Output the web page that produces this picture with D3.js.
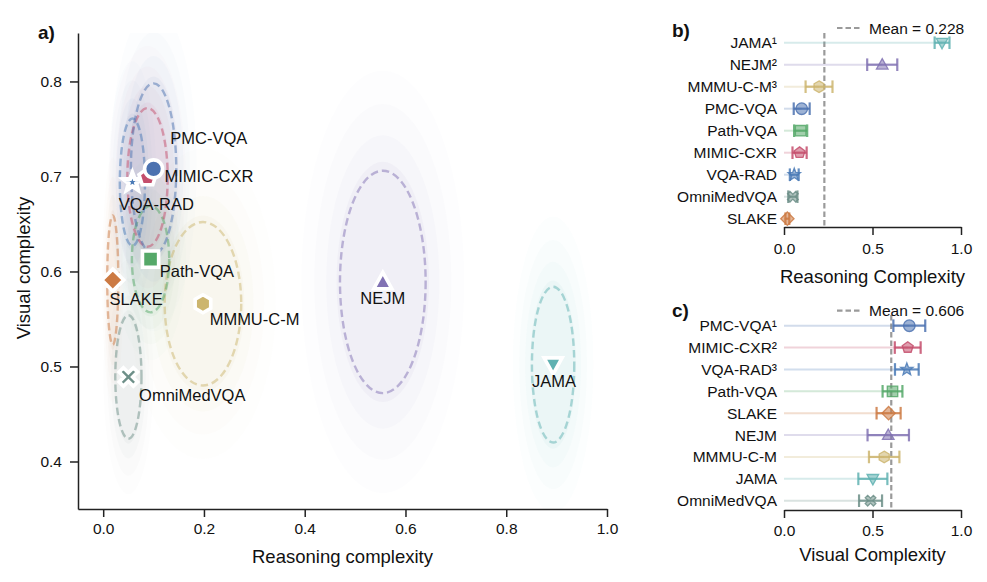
<!DOCTYPE html>
<html><head><meta charset="utf-8">
<script src="https://cdn.jsdelivr.net/npm/d3@7"></script>
<style>
body{margin:0;background:#fff}
text{font-family:"Liberation Sans",Arial,Helvetica,sans-serif}
</style>
</head><body>
<svg id="chart" width="987" height="582"></svg>
<script>
// ---------------- DATA ----------------
const datasets   = ["PMC-VQA","MIMIC-CXR","VQA-RAD","Path-VQA","SLAKE","NEJM","MMMU-C-M","JAMA","OmniMedVQA"];
const colors     = ["#4c72b0","#c44e6c","#4a7ab6","#55a868","#cc7a43","#8172b3","#ccb56e","#5fb1b1","#6d8f88"];
const markers    = ["o","p","*","s","D","^","h","v","X"];
const reasonMean = [0.100,0.088,0.058,0.094,0.019,0.555,0.198,0.893,0.050];
const reasonSd   = [0.045,0.040,0.025,0.037,0.011,0.085,0.076,0.042,0.026];
const visualMean = [0.708,0.699,0.694,0.613,0.591,0.589,0.566,0.502,0.489];
const visualSd   = [0.090,0.073,0.067,0.056,0.068,0.117,0.086,0.082,0.065];
const meanReason = 0.228;
const meanVisual = 0.606;
const xTicksA = [0.0,0.2,0.4,0.6,0.8,1.0];
const yTicksA = [0.4,0.5,0.6,0.7,0.8];
const xTicksBC = [0.0,0.5,1.0];
const orderB  = ["JAMA","NEJM","MMMU-C-M","PMC-VQA","Path-VQA","MIMIC-CXR","VQA-RAD","OmniMedVQA","SLAKE"];
const labelsB = ["JAMA¹","NEJM²","MMMU-C-M³","PMC-VQA","Path-VQA","MIMIC-CXR","VQA-RAD","OmniMedVQA","SLAKE"];
const orderC  = ["PMC-VQA","MIMIC-CXR","VQA-RAD","Path-VQA","SLAKE","NEJM","MMMU-C-M","JAMA","OmniMedVQA"];
const labelsC = ["PMC-VQA¹","MIMIC-CXR²","VQA-RAD³","Path-VQA","SLAKE","NEJM","MMMU-C-M","JAMA","OmniMedVQA"];

// ---------------- LAYOUT CONFIG ----------------
const labelOffset = {
  "PMC-VQA":[16.7,-31,"start"], "MIMIC-CXR":[17,-1.5,"start"], "VQA-RAD":[-13.7,21.6,"start"],
  "Path-VQA":[9.3,11.7,"start"], "SLAKE":[-3.3,19.3,"start"], "MMMU-C-M":[6.7,15,"start"],
  "OmniMedVQA":[10.7,17.6,"start"], "NEJM":[0,16,"middle"], "JAMA":[1,16.7,"middle"]
};
const drawOrder = ["OmniMedVQA","SLAKE","JAMA","NEJM","MMMU-C-M","Path-VQA","VQA-RAD","MIMIC-CXR","PMC-VQA"];
const haloLayers = [[1.9,0.014],[1.6,0.022],[1.32,0.032],[1.08,0.05]];

const svg = d3.select("#chart");
svg.append("rect").attr("width",987).attr("height",582).attr("fill","#fff");
const AX = "#222";

function poly(pts){ return "M" + pts.map(p=>p[0].toFixed(2)+","+p[1].toFixed(2)).join("L") + "Z"; }
function regular(n, r, rot){
  const pts=[]; for(let k=0;k<n;k++){ const a = rot + 2*Math.PI*k/n; pts.push([r*Math.sin(a), -r*Math.cos(a)]); }
  return poly(pts);
}
function star(R, r){
  const pts=[]; for(let k=0;k<10;k++){ const a=Math.PI*k/5; const rr = k%2?r:R; pts.push([rr*Math.sin(a), -rr*Math.cos(a)]); }
  return poly(pts);
}
function markerPath(t, R){
  switch(t){
    case "o": return d3.symbol(d3.symbolCircle, Math.PI*R*R)();
    case "s": { const h=R*0.9; return poly([[-h,-h],[h,-h],[h,h],[-h,h]]); }
    case "D": { const h=R*1.15; return poly([[0,-h],[h,0],[0,h],[-h,0]]); }
    case "^": return poly([[0,-R*1.05],[R,R*0.75],[-R,R*0.75]]);
    case "v": return poly([[0,R*1.05],[R,-R*0.75],[-R,-R*0.75]]);
    case "h": return regular(6, R, 0);
    case "p": return regular(5, R, 0);
    case "*": return star(R, R*0.42);
    case "X": {
      const a=R*0.3, b=R; const pts=[];
      const base=[[-a,-b],[a,-b],[a,-a],[b,-a],[b,a],[a,a],[a,b],[-a,b],[-a,a],[-b,a],[-b,-a],[-a,-a]];
      const c=Math.SQRT1_2;
      base.forEach(p=>pts.push([(p[0]-p[1])*c,(p[0]+p[1])*c]));
      return poly(pts);
    }
  }
}
const idx = name => datasets.indexOf(name);

// ---------------- PANEL A ----------------
const xA = d3.scaleLinear().domain([-0.05,1.0]).range([78,607]);
const yA = d3.scaleLinear().domain([0.35,0.851]).range([509,33]);
svg.append("clipPath").attr("id","clipA").append("rect")
  .attr("x",78).attr("y",33).attr("width",529).attr("height",476);
const gA = svg.append("g");
const clipG = gA.append("g").attr("clip-path","url(#clipA)");

drawOrder.forEach(name=>{
  const i = idx(name);
  const cx=xA(reasonMean[i]), cy=yA(visualMean[i]);
  const rx=xA(reasonMean[i]+reasonSd[i])-cx, ry=cy-yA(visualMean[i]+visualSd[i]);
  haloLayers.forEach(([s,a])=>{
    clipG.append("ellipse").attr("cx",cx).attr("cy",cy).attr("rx",rx*s).attr("ry",ry*s)
      .attr("fill",colors[i]).attr("fill-opacity",a);
  });
});
drawOrder.forEach(name=>{
  const i = idx(name);
  const cx=xA(reasonMean[i]), cy=yA(visualMean[i]);
  const rx=xA(reasonMean[i]+reasonSd[i])-cx, ry=cy-yA(visualMean[i]+visualSd[i]);
  clipG.append("ellipse").attr("cx",cx).attr("cy",cy).attr("rx",rx).attr("ry",ry)
    .attr("fill","none").attr("stroke",colors[i]).attr("stroke-opacity",0.5)
    .attr("stroke-width",2.4).attr("stroke-dasharray","7.5,4");
});
const sizeA = {o:9,s:9,D:9.5,"^":9,v:9,h:9,p:9,"*":9.5,X:10};
drawOrder.forEach(name=>{
  const i = idx(name);
  gA.append("path").attr("d",markerPath(markers[i],sizeA[markers[i]]))
    .attr("transform",`translate(${xA(reasonMean[i])},${yA(visualMean[i])})`)
    .attr("fill",colors[i]).attr("stroke","#fff").attr("stroke-width",markers[i]==="*"?4.2:3.6)
    .attr("stroke-linejoin","miter");
});
datasets.forEach((name,i)=>{
  const [dx,dy,anc]=labelOffset[name];
  gA.append("text").attr("x",xA(reasonMean[i])+dx).attr("y",yA(visualMean[i])+dy)
    .attr("dominant-baseline","central").attr("text-anchor",anc)
    .attr("font-size",16.5).attr("fill","#111").text(name);
});
function styleAxis(g, fs){
  g.selectAll("path.domain").attr("stroke",AX).attr("stroke-width",1.5);
  g.selectAll(".tick line").attr("stroke",AX).attr("stroke-width",1.5);
  g.selectAll(".tick text").attr("fill","#111").attr("font-size",fs)
    .attr("font-family",'"Liberation Sans",Arial,sans-serif');
}
const axA_x = gA.append("g").attr("transform","translate(0,509)")
  .call(d3.axisBottom(xA).tickValues(xTicksA).tickFormat(d3.format(".1f")).tickSize(8).tickSizeOuter(0).tickPadding(6));
styleAxis(axA_x,15.5);
const axA_y = gA.append("g").attr("transform","translate(78,0)")
  .call(d3.axisLeft(yA).tickValues(yTicksA).tickFormat(d3.format(".1f")).tickSize(8).tickSizeOuter(0).tickPadding(8));
styleAxis(axA_y,15.5);
gA.append("text").attr("x",342.5).attr("y",556).attr("text-anchor","middle").attr("dominant-baseline","central")
  .attr("font-size",18.5).attr("fill","#111").text("Reasoning complexity");
gA.append("text").attr("transform","translate(23,268) rotate(-90)").attr("text-anchor","middle")
  .attr("dominant-baseline","central").attr("font-size",18.5).attr("fill","#111").text("Visual complexity");
gA.append("text").attr("x",38).attr("y",32).attr("dominant-baseline","central")
  .attr("font-size",19).attr("font-weight","bold").attr("fill","#111").text("a)");

// ---------------- PANELS B & C ----------------
function forestPanel(cfg){
  const g = svg.append("g");
  const x = d3.scaleLinear().domain([0,1]).range([784,961]);
  const y = d3.scalePoint().domain(cfg.order).range(cfg.rowRange);
  g.append("line").attr("x1",x(cfg.mean)).attr("x2",x(cfg.mean)).attr("y1",cfg.top).attr("y2",cfg.axisY)
    .attr("stroke","#9a9a9a").attr("stroke-width",2.2).attr("stroke-dasharray","5.5,3");
  cfg.order.forEach((name,k)=>{
    const i = idx(name), m = cfg.means[i], s = cfg.sds[i], yy = y(name), c = colors[i];
    g.append("line").attr("x1",x(0)).attr("x2",x(m)).attr("y1",yy).attr("y2",yy)
      .attr("stroke",c).attr("stroke-opacity",0.25).attr("stroke-width",2);
    g.append("line").attr("x1",x(m-s)).attr("x2",x(m+s)).attr("y1",yy).attr("y2",yy)
      .attr("stroke",c).attr("stroke-opacity",0.85).attr("stroke-width",2.2);
    [m-s,m+s].forEach(v=>g.append("line").attr("x1",x(v)).attr("x2",x(v)).attr("y1",yy-6.3).attr("y2",yy+6.3)
      .attr("stroke",c).attr("stroke-opacity",0.85).attr("stroke-width",2.2));
    g.append("path").attr("d",markerPath(markers[i],markers[i]==="*"?6.5:5.8))
      .attr("transform",`translate(${x(m)},${yy})`)
      .attr("fill",c).attr("fill-opacity",0.55).attr("stroke",c).attr("stroke-opacity",0.85).attr("stroke-width",1.3);
    g.append("text").attr("x",777).attr("y",yy).attr("text-anchor","end").attr("dominant-baseline","central")
      .attr("font-size",15.5).attr("fill","#111").text(cfg.labels[k]);
  });
  const ax = g.append("g").attr("transform",`translate(0,${cfg.axisY})`)
    .call(d3.axisBottom(x).tickValues(xTicksBC).tickFormat(d3.format(".1f")).tickSize(8).tickSizeOuter(0).tickPadding(cfg.pad));
  styleAxis(ax,15.5);
  g.append("text").attr("x",872.5).attr("y",cfg.titleY).attr("text-anchor","middle").attr("dominant-baseline","central")
    .attr("font-size",18.5).attr("fill","#111").text(cfg.title);
  g.append("line").attr("x1",837).attr("x2",861).attr("y1",cfg.legY).attr("y2",cfg.legY)
    .attr("stroke","#9a9a9a").attr("stroke-width",2.2).attr("stroke-dasharray","5.5,3");
  g.append("text").attr("x",869).attr("y",cfg.legY).attr("dominant-baseline","central")
    .attr("font-size",15.5).attr("fill","#111").text("Mean = " + cfg.mean.toFixed(3));
  g.append("text").attr("x",672).attr("y",cfg.tagY).attr("dominant-baseline","central")
    .attr("font-size",19).attr("font-weight","bold").attr("fill","#111").text(cfg.tag);
}
forestPanel({order:orderB,labels:labelsB,means:reasonMean,sds:reasonSd,mean:meanReason,
  rowRange:[42.7,218.7],top:33,axisY:227,pad:8,titleY:276,legY:28,tagY:30,tag:"b)",title:"Reasoning Complexity"});
forestPanel({order:orderC,labels:labelsC,means:visualMean,sds:visualSd,mean:meanVisual,
  rowRange:[325.7,500.7],top:315,axisY:510,pad:7,titleY:554,legY:310.7,tagY:310,tag:"c)",title:"Visual Complexity"});
</script>
</body></html>
